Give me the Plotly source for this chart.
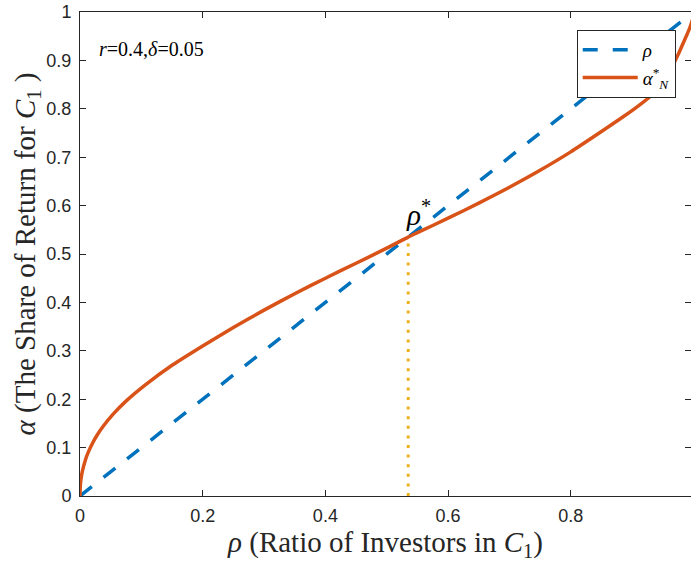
import plotly.graph_objects as go

# ---- data ----
rho_line = [0.0, 1.0]
alpha_line = [0.0, 1.0]

rho_curve = [0.0, 0.0004, 0.0015, 0.004, 0.0087, 0.013, 0.0212, 0.027, 0.0375,
             0.054, 0.075, 0.106, 0.15, 0.2, 0.25, 0.3, 0.35, 0.4, 0.45, 0.5,
             0.535, 0.55, 0.6, 0.65, 0.7, 0.75, 0.8, 0.85, 0.886, 0.907, 0.93,
             0.945, 0.956, 0.964, 0.975, 0.983, 0.99, 0.994, 1.0]
alpha_curve = [0.0, 0.019, 0.034, 0.052, 0.074, 0.089, 0.111, 0.124, 0.1435,
               0.169, 0.196, 0.229, 0.270, 0.310, 0.348, 0.384, 0.418, 0.450, 0.481, 0.512,
               0.535, 0.544, 0.574, 0.605, 0.638, 0.673, 0.711, 0.753, 0.784, 0.803, 0.826,
               0.846, 0.866, 0.884, 0.912, 0.935, 0.955, 0.967, 0.99]

rho_star = 0.535
alpha_star = 0.535

x_ticks = [0, 0.2, 0.4, 0.6, 0.8, 1.0]
y_ticks = [0, 0.1, 0.2, 0.3, 0.4, 0.5, 0.6, 0.7, 0.8, 0.9, 1.0]

BLUE = "#0072BD"
ORANGE = "#D95319"
YELLOW = "#EDB120"
AX = "#262626"
SERIF = "Liberation Serif, DejaVu Serif, serif"
SANS = "Liberation Sans, Arial, sans-serif"

fig = go.Figure()
fig.add_trace(go.Scatter(
    x=[rho_star, rho_star], y=[0, alpha_star], mode="lines",
    line=dict(color=YELLOW, width=3, dash="3px,6.6px"), showlegend=False,
    hoverinfo="skip"))
fig.add_trace(go.Scatter(
    x=rho_line, y=alpha_line, mode="lines", name="<i>ρ</i>",
    line=dict(color=BLUE, width=3.5, dash="15px,15px")))
fig.add_trace(go.Scatter(
    x=rho_curve, y=alpha_curve, mode="lines",
    name="<i>α</i><sup>*</sup><sub><i>N</i></sub>",
    line=dict(color=ORANGE, width=3.5, shape="spline", smoothing=0.6)))

fig.add_annotation(x=0.028, y=0.923, xref="x", yref="y", xanchor="left",
                   yanchor="middle", showarrow=False,
                   text="<i>r</i>=0.4,<i>δ</i>=0.05",
                   font=dict(family=SERIF, size=20, color="black"))
fig.add_annotation(x=0.552, y=0.585, xref="x", yref="y", xanchor="center",
                   yanchor="middle", showarrow=False,
                   text="<i>ρ</i><sup>*</sup>",
                   font=dict(family=SERIF, size=29, color="black"))

axis_common = dict(
    showline=True, linecolor=AX, linewidth=1, mirror="ticks",
    ticks="inside", ticklen=6, tickcolor=AX, tickwidth=1,
    showgrid=False, zeroline=False,
    tickfont=dict(family=SANS, size=18, color=AX),
)

fig.update_xaxes(range=[0, 0.996], tickvals=x_ticks,
                 ticktext=["0", "0.2", "0.4", "0.6", "0.8", "1"],
                 ticklabelstandoff=3,
                 title=dict(text="<i>ρ</i> (Ratio of Investors in <i>C</i><sub>1</sub>)",
                            font=dict(family=SERIF, size=29, color=AX), standoff=2),
                 **axis_common)
fig.update_yaxes(range=[0, 1], tickvals=y_ticks,
                 ticktext=["0", "0.1", "0.2", "0.3", "0.4", "0.5", "0.6", "0.7",
                           "0.8", "0.9", "1"],
                 ticklabelstandoff=4,
                 title=dict(text="<i>α</i> (The Share of Return for <i>C</i><sub>1</sub> )",
                            font=dict(family=SERIF, size=29, color=AX), standoff=2),
                 **axis_common)

fig.update_layout(
    width=691, height=562,
    margin=dict(l=80, r=0, t=12, b=66),
    paper_bgcolor="white", plot_bgcolor="white",
    legend=dict(x=0.975, y=0.963, xanchor="right", yanchor="top",
                bgcolor="white", bordercolor=AX, borderwidth=1,
                font=dict(family=SERIF, size=19, color="black"),
                itemwidth=55, tracegroupgap=0),
)

fig.write_html("out.html")
